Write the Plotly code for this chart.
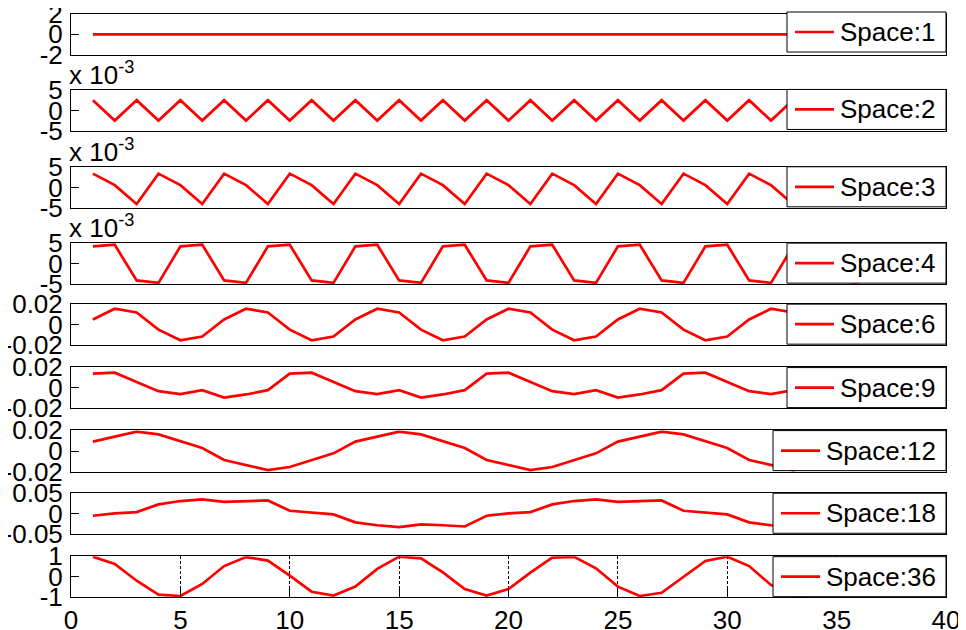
"""Nine stacked MATLAB-style line panels, one per period ("Space")."""

import plotly.graph_objects as go
from plotly.subplots import make_subplots

# Data
x_index = list(range(1, 37))

space_1 = [
    0, 0, 0, 0, 0, 0, 0, 0, 0, 0, 0, 0, 0, 0, 0, 0, 0, 0,
    0, 0, 0, 0, 0, 0, 0, 0, 0, 0, 0, 0, 0, 0, 0, 0, 0, 0,
]

space_2 = [
    0.0025, -0.0025, 0.0025, -0.0025, 0.0025, -0.0025, 0.0025, -0.0025, 0.0025,
    -0.0025, 0.0025, -0.0025, 0.0025, -0.0025, 0.0025, -0.0025, 0.0025, -0.0025,
    0.0025, -0.0025, 0.0025, -0.0025, 0.0025, -0.0025, 0.0025, -0.0025, 0.0025,
    -0.0025, 0.0025, -0.0025, 0.0025, -0.0025, 0.0025, -0.0025, 0.0025, -0.0025,
]

space_3 = [
    0.0034, 0.0006, -0.0040, 0.0034, 0.0006, -0.0040, 0.0034, 0.0006, -0.0040,
    0.0034, 0.0006, -0.0040, 0.0034, 0.0006, -0.0040, 0.0034, 0.0006, -0.0040,
    0.0034, 0.0006, -0.0040, 0.0034, 0.0006, -0.0040, 0.0034, 0.0006, -0.0040,
    0.0034, 0.0006, -0.0040, 0.0034, 0.0006, -0.0040, 0.0034, 0.0006, -0.0040,
]

space_4 = [
    0.0042, 0.0046, -0.0041, -0.0047, 0.0042, 0.0046, -0.0041, -0.0047, 0.0042,
    0.0046, -0.0041, -0.0047, 0.0042, 0.0046, -0.0041, -0.0047, 0.0042, 0.0046,
    -0.0041, -0.0047, 0.0042, 0.0046, -0.0041, -0.0047, 0.0042, 0.0046, -0.0041,
    -0.0047, 0.0042, 0.0046, -0.0041, -0.0047, 0.0042, 0.0046, -0.0041, -0.0047,
]

space_6 = [
    0.0050, 0.0155, 0.0118, -0.0050, -0.0155, -0.0118,
    0.0050, 0.0155, 0.0118, -0.0050, -0.0155, -0.0118,
    0.0050, 0.0155, 0.0118, -0.0050, -0.0155, -0.0118,
    0.0050, 0.0155, 0.0118, -0.0050, -0.0155, -0.0118,
    0.0050, 0.0155, 0.0118, -0.0050, -0.0155, -0.0118,
    0.0050, 0.0155, 0.0118, -0.0050, -0.0155, -0.0118,
]

space_9 = [
    0.0137, 0.0146, 0.0055, -0.0036, -0.0065, -0.0026, -0.0098, -0.0068, -0.0026,
    0.0137, 0.0146, 0.0055, -0.0036, -0.0065, -0.0026, -0.0098, -0.0068, -0.0026,
    0.0137, 0.0146, 0.0055, -0.0036, -0.0065, -0.0026, -0.0098, -0.0068, -0.0026,
    0.0137, 0.0146, 0.0055, -0.0036, -0.0065, -0.0026, -0.0098, -0.0068, -0.0026,
]

space_12 = [
    0.0092, 0.0140, 0.0187, 0.0160, 0.0098, 0.0030,
    -0.0083, -0.0130, -0.0180, -0.0150, -0.0086, -0.0020,
    0.0092, 0.0140, 0.0187, 0.0160, 0.0098, 0.0030,
    -0.0083, -0.0130, -0.0180, -0.0150, -0.0086, -0.0020,
    0.0092, 0.0140, 0.0187, 0.0160, 0.0098, 0.0030,
    -0.0083, -0.0130, -0.0180, -0.0150, -0.0086, -0.0020,
]

space_18 = [
    -0.0049, 0.0008, 0.0040, 0.0228, 0.0310, 0.0350, 0.0290, 0.0300, 0.0325,
    0.0073, 0.0024, -0.0016, -0.0210, -0.0280, -0.0325, -0.0260, -0.0280, -0.0310,
    -0.0049, 0.0008, 0.0040, 0.0228, 0.0310, 0.0350, 0.0290, 0.0300, 0.0325,
    0.0073, 0.0024, -0.0016, -0.0210, -0.0280, -0.0325, -0.0260, -0.0280, -0.0310,
]

space_36 = [
    0.98, 0.62, -0.20, -0.88, -0.95, -0.36, 0.52, 0.96, 0.79, 0.05, -0.74, -0.93,
    -0.49, 0.38, 0.98, 0.90, 0.21, -0.61, -0.93, -0.61, 0.20, 0.93, 0.97, 0.41,
    -0.49, -0.95, -0.79, 0.00, 0.77, 0.98, 0.52, -0.41, -0.94, -0.87, -0.17, 0.64,
]

series_names = ["Space:1", "Space:2", "Space:3", "Space:4", "Space:6",
                "Space:9", "Space:12", "Space:18", "Space:36"]
series_values = [space_1, space_2, space_3, space_4, space_6,
                 space_9, space_12, space_18, space_36]

y_limits = [2, 0.005, 0.005, 0.005, 0.02, 0.02, 0.02, 0.05, 1]
y_tick_text = [
    ["-2", "0", "2"],
    ["-5", "0", "5"],
    ["-5", "0", "5"],
    ["-5", "0", "5"],
    ["-0.02", "0", "0.02"],
    ["-0.02", "0", "0.02"],
    ["-0.02", "0", "0.02"],
    ["-0.05", "0", "0.05"],
    ["-1", "0", "1"],
]
x_tick_vals = [0, 5, 10, 15, 20, 25, 30, 35, 40]
x_tick_text = ["0", "5", "10", "15", "20", "25", "30", "35", "40"]

# Layout geometry, measured in page pixels of the 966x630 window.
# The html body has an 8px margin, so the figure itself is 8px smaller.
PAGE_W, PAGE_H = 966, 630
BODY = 8
WIDTH, HEIGHT = PAGE_W - BODY, PAGE_H - BODY
AX_LEFT, AX_RIGHT, AX_TOP, AX_BOTTOM = 71, 946, 14.3, 597
PANEL_PX = [(14.3, 55), (90.3, 131), (167.3, 208.3), (243.3, 284.3),
            (304.3, 345), (367.3, 408), (430.3, 472.3), (493.3, 534.3),
            (556.3, 597)]
LEGEND_TOP_PX = [12.3, 89.7, 167, 243.3, 304.3, 367.7, 430.7, 493.3, 556.7]
LEGEND_H = 40
FONT = "Arial, Liberation Sans, sans-serif"
FONT_SIZE = 26
RED = "#ff0000"

M_LEFT = AX_LEFT - BODY
M_TOP = AX_TOP - BODY
M_RIGHT = PAGE_W - AX_RIGHT
M_BOTTOM = PAGE_H - AX_BOTTOM


def paper_y(py):
    return (AX_BOTTOM - py) / (AX_BOTTOM - AX_TOP)


def paper_x(px):
    return (px - AX_LEFT) / (AX_RIGHT - AX_LEFT)


n = len(series_names)
fig = make_subplots(rows=n, cols=1)

for i, (name, vals) in enumerate(zip(series_names, series_values)):
    row = i + 1
    fig.add_trace(
        go.Scatter(
            x=x_index,
            y=vals,
            mode="lines",
            name=name,
            line=dict(color=RED, width=2.7),
            showlegend=False,
        ),
        row=row,
        col=1,
    )

    top, bottom = PANEL_PX[i]
    lim = y_limits[i]
    fig.update_yaxes(
        domain=[paper_y(bottom), paper_y(top)],
        range=[-lim, lim],
        tickvals=[-lim, 0, lim],
        ticktext=y_tick_text[i],
        ticks="inside",
        ticklen=8,
        tickcolor="black",
        ticklabelstandoff=2,
        ticklabeloverflow="allow",
        showline=True,
        linecolor="black",
        linewidth=1,
        mirror="ticks",
        showgrid=False,
        zeroline=False,
        automargin=False,
        tickfont=dict(family=FONT, size=FONT_SIZE, color="black"),
        row=row,
        col=1,
    )
    last = row == n
    fig.update_xaxes(
        range=[0, 40],
        showline=True,
        linecolor="black",
        linewidth=1,
        mirror=True,
        zeroline=False,
        automargin=False,
        tickvals=x_tick_vals if last else [],
        ticktext=x_tick_text if last else [],
        ticks="inside" if last else "",
        ticklen=8,
        tickcolor="black",
        ticklabeloverflow="allow",
        showgrid=last,
        gridcolor="black",
        gridwidth=1,
        griddash="3px,2px",
        tickfont=dict(family=FONT, size=FONT_SIZE, color="black"),
        row=row,
        col=1,
    )

    # MATLAB-style boxed legend in the top-right corner of each panel
    box_right = AX_RIGHT
    box_left = box_right - 159 - 14 * (len(name) - 7)
    box_top = LEGEND_TOP_PX[i]
    box_mid = box_top + LEGEND_H / 2
    fig.add_shape(
        type="rect",
        xref="paper",
        yref="paper",
        x0=paper_x(box_left),
        x1=paper_x(box_right),
        y0=paper_y(box_top + LEGEND_H),
        y1=paper_y(box_top),
        fillcolor="white",
        line=dict(color="black", width=1),
        layer="above",
    )
    fig.add_shape(
        type="line",
        xref="paper",
        yref="paper",
        x0=paper_x(box_left + 8),
        x1=paper_x(box_left + 47),
        y0=paper_y(box_mid),
        y1=paper_y(box_mid),
        line=dict(color=RED, width=2.7),
        layer="above",
    )
    fig.add_annotation(
        text=name,
        xref="paper",
        yref="paper",
        x=paper_x(box_left + 51),
        y=paper_y(box_mid),
        xanchor="left",
        yanchor="middle",
        showarrow=False,
        font=dict(family=FONT, size=FONT_SIZE, color="black"),
    )

# exponent labels above the milli-scaled panels
for i in (1, 2, 3):
    top = PANEL_PX[i][0]
    fig.add_annotation(
        text="x 10<sup>-3</sup>",
        xref="paper",
        yref="paper",
        x=paper_x(AX_LEFT - 4),
        y=paper_y(top + 2),
        xanchor="left",
        yanchor="bottom",
        showarrow=False,
        font=dict(family=FONT, size=FONT_SIZE, color="black"),
    )

fig.update_layout(
    width=WIDTH,
    height=HEIGHT,
    margin=dict(l=M_LEFT, r=M_RIGHT, t=M_TOP, b=M_BOTTOM, autoexpand=False),
    plot_bgcolor="white",
    paper_bgcolor="white",
    font=dict(family=FONT, size=FONT_SIZE, color="black"),
    showlegend=False,
)

fig.write_html("out.html")
